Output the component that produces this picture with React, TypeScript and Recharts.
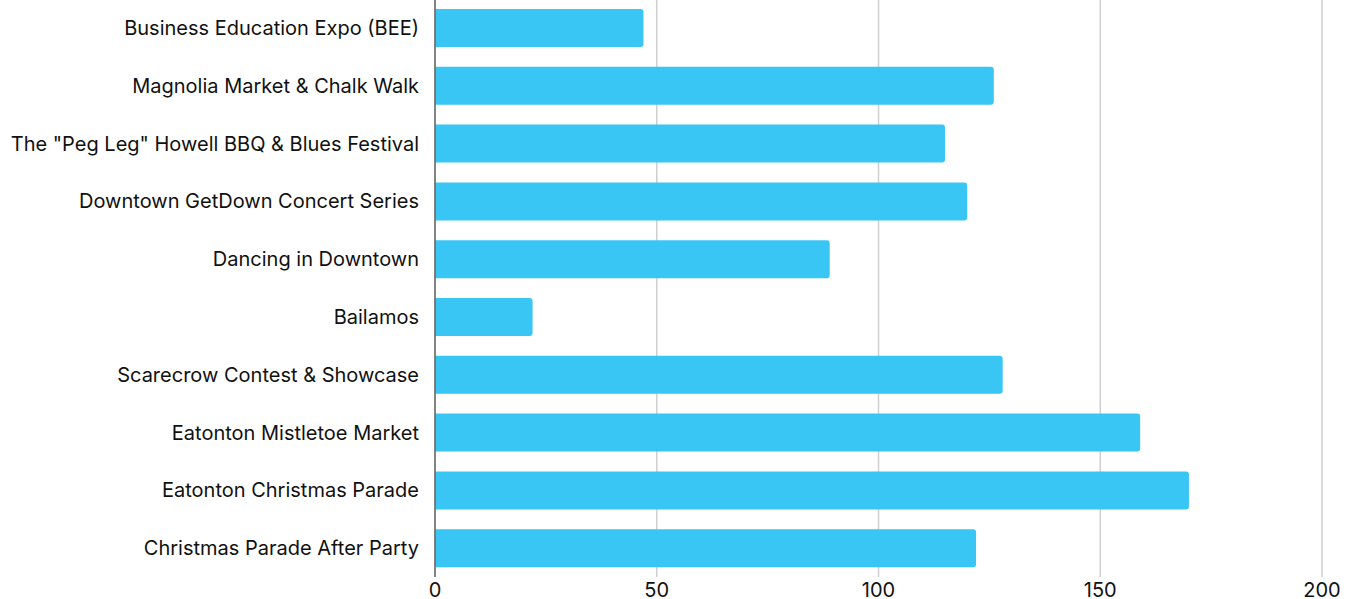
import { BarChart, Bar, XAxis, YAxis, CartesianGrid } from "recharts";

const events = [
  "Business Education Expo (BEE)",
  "Magnolia Market & Chalk Walk",
  'The "Peg Leg" Howell BBQ & Blues Festival',
  "Downtown GetDown Concert Series",
  "Dancing in Downtown",
  "Bailamos",
  "Scarecrow Contest & Showcase",
  "Eatonton Mistletoe Market",
  "Eatonton Christmas Parade",
  "Christmas Parade After Party",
];

const attendance = [47, 126, 115, 120, 89, 22, 128, 159, 170, 122];

const xTicks = [0, 50, 100, 150, 200];

const data = events.map((name, i) => ({ name, value: attendance[i] }));

const FONT = "Inter, 'Noto Sans', sans-serif";

export default function App() {
  return (
    <div style={{ position: "absolute", left: 0, top: 0, fontFamily: FONT }}>
      <BarChart
        width={1357}
        height={599}
        data={data}
        layout="vertical"
        margin={{ top: -1, right: 35, bottom: 0, left: 0 }}
        barCategoryGap={10}
      >
        <CartesianGrid horizontal={false} stroke="#cfcfcf" strokeWidth={1.5} />
        <XAxis
          type="number"
          domain={[0, 200]}
          ticks={xTicks}
          axisLine={false}
          tickLine={false}
          height={22}
          tick={{ fill: "#111", fontSize: 20, fontFamily: FONT }}
          tickMargin={0}
        />
        <YAxis
          type="category"
          dataKey="name"
          width={435}
          axisLine={{ stroke: "#666", strokeWidth: 1.5 }}
          tickLine={false}
          tickMargin={10}
          interval={0}
          tick={{ fill: "#111", fontSize: 20, fontFamily: FONT }}
        />
        <Bar
          dataKey="value"
          fill="#3ac6f4"
          radius={[0, 3, 3, 0]}
          isAnimationActive={false}
        />
      </BarChart>
    </div>
  );
}
